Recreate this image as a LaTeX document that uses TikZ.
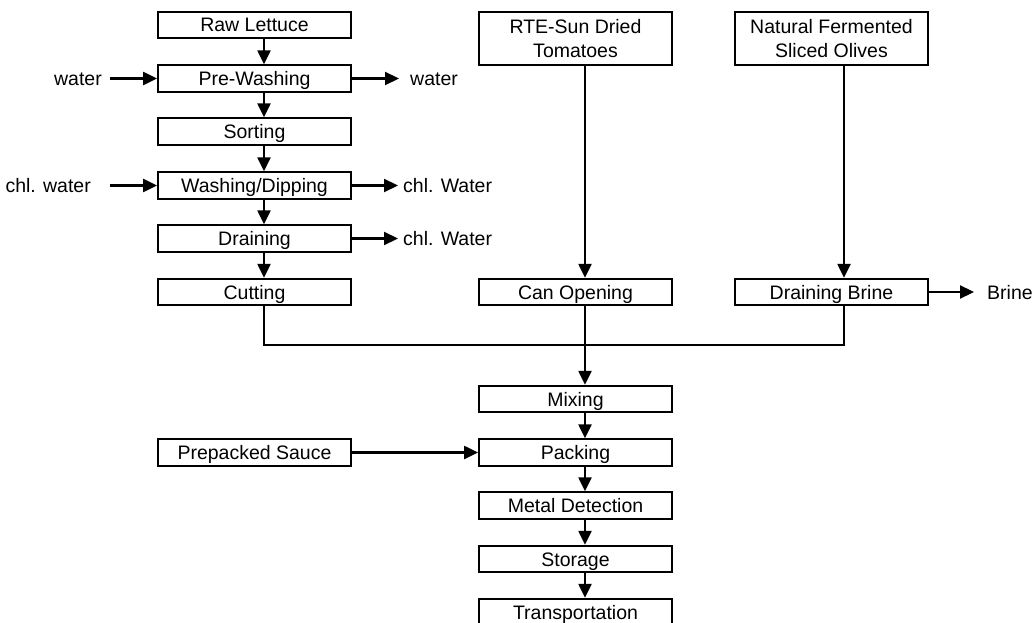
\documentclass[tikz,border=0pt]{standalone}
\usepackage{fontspec}
\setmainfont{Liberation Sans}
\usetikzlibrary{arrows.meta}
\begin{document}
\begin{tikzpicture}[x=1pt,y=-1pt,>={Triangle[length=14pt,width=13pt]},
  boxbase/.style={draw,line width=1.8pt,minimum width=193pt,inner sep=0pt,align=center,font=\fontsize{19.5}{23.3}\selectfont},
  stepbox/.style={boxbase,minimum height=26.5pt,text height=14pt,text depth=0pt},
  tallbox/.style={boxbase,minimum height=53pt},
  flowlabel/.style={inner sep=0pt,text height=14pt,text depth=0pt,font=\fontsize{19.5}{23.3}\selectfont},
  flow/.style={line width=2.2pt}]
\useasboundingbox (0,0) rectangle (1033,623);
\node[stepbox] (lettuce) at (254.5,25) {Raw Lettuce};
\node[stepbox] (prewash) at (254.5,78.5) {Pre-Washing};
\node[stepbox] (sorting) at (254.5,131.5) {Sorting};
\node[stepbox] (washing) at (254.5,185.5) {Washing/Dipping};
\node[stepbox] (draining) at (254.5,238.5) {Draining};
\node[stepbox] (cutting) at (254.5,292) {Cutting};
\node[tallbox] (tomatoes) at (575.5,38.5) {RTE-Sun Dried\\Tomatoes};
\node[stepbox] (canopen) at (575.5,292) {Can Opening};
\node[tallbox] (olives) at (831.5,38.5) {Natural Fermented\\Sliced Olives};
\node[stepbox] (drainbrine) at (831.5,292) {Draining Brine};
\node[stepbox] (mixing) at (575.5,399) {Mixing};
\node[stepbox] (packing) at (575.5,452.5) {Packing};
\node[stepbox] (sauce) at (254.5,452.5) {Prepacked Sauce};
\node[stepbox] (metal) at (575.5,505.5) {Metal Detection};
\node[stepbox] (storage) at (575.5,559) {Storage};
\node[stepbox] (transport) at (575.5,612) {Transportation};
\node[flowlabel,anchor=east] (waterin) at (102,78.5) {water};
\node[flowlabel,anchor=west] (waterout) at (410,78.5) {water};
\node[flowlabel,anchor=east] (chlin) at (91,185.5) {chl. water};
\node[flowlabel,anchor=west] (chlout) at (403,185.5) {chl. Water};
\node[flowlabel,anchor=west] (drainout) at (403,238.5) {chl. Water};
\node[flowlabel,anchor=west] (brine) at (987,292) {Brine};
\coordinate (merge) at (585,345);
\foreach \a/\b in {lettuce/prewash,prewash/sorting,sorting/washing,washing/draining,draining/cutting,
  tomatoes/canopen,canopen/mixing,mixing/packing,packing/metal,metal/storage,storage/transport}
  \draw[flow,->] ([xshift=9.5pt]\a.south) -- ([xshift=9.5pt]\b.north);
\draw[flow,->] ([xshift=12.5pt]olives.south) -- ([xshift=12.5pt]drainbrine.north);
\draw[flow] ([xshift=9.5pt]cutting.south) |- (merge) -| ([xshift=12.5pt]drainbrine.south);
\draw[flow,->] ([xshift=8pt]waterin.east) -- (prewash.west);
\draw[flow,->] ([xshift=19pt]chlin.east) -- (washing.west);
\draw[flow,->] (prewash.east) -- ([xshift=-11pt]waterout.west);
\draw[flow,->] (washing.east) -- ([xshift=-5pt]chlout.west);
\draw[flow,->] (draining.east) -- ([xshift=-5pt]drainout.west);
\draw[flow,->] (drainbrine.east) -- ([xshift=-13pt]brine.west);
\draw[flow,->] (sauce.east) -- (packing.west);
\end{tikzpicture}
\end{document}
